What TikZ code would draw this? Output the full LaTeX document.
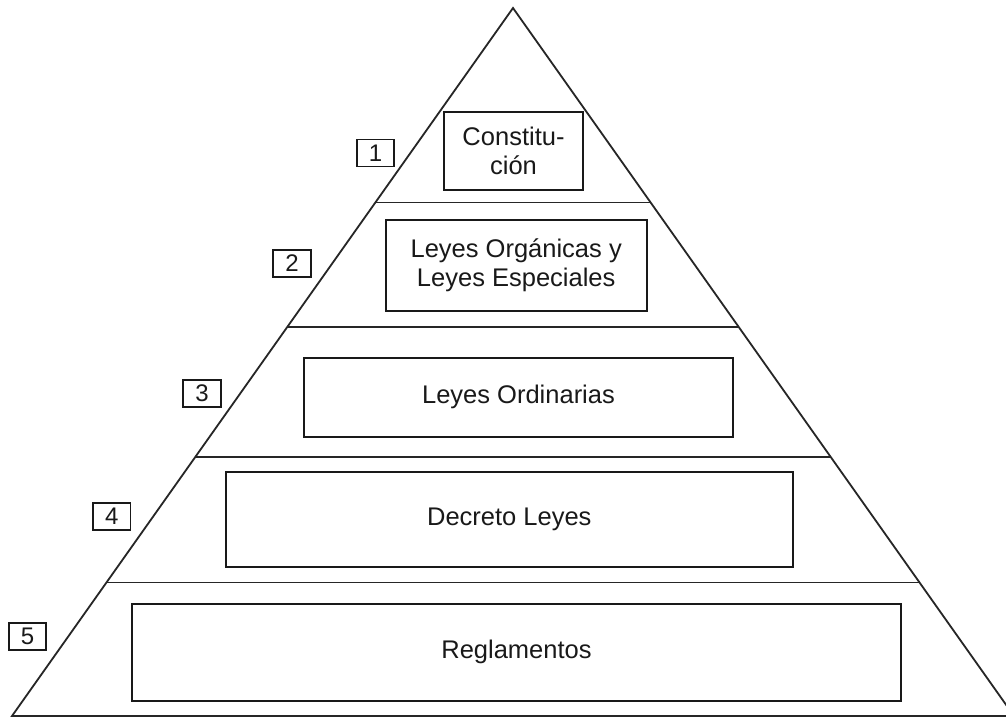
\documentclass[tikz,border=0pt]{standalone}
\usepackage{fontspec}
\setmainfont{Liberation Sans}
\usetikzlibrary{calc}
\begin{document}
\begin{tikzpicture}[x=1pt,y=-1pt,
  edge/.style={draw=black!85,line width=1.8pt},
  tier/.style={draw=black!90,line width=1.8pt,inner sep=0pt,align=center,
    text=black!90,font=\fontsize{25.5}{29.5}\selectfont},
  numbox/.style={draw=black!90,line width=1.7pt,inner sep=0pt,minimum width=37.5pt,
    minimum height=27pt,text=black!90,font=\fontsize{24}{26}\selectfont}]
\clip (0,0) rectangle (1006,717);
\useasboundingbox (0,0) rectangle (1006,717);
\fill[white] (0,0) rectangle (1006,717);
% triangle corners
\coordinate (A) at (513,8);
\coordinate (BL) at (12,716);
\coordinate (BR) at (1014,716);
\draw[edge,line join=miter] (BL) -- (A) -- (BR) -- cycle;
% dividing lines
\coordinate (l2a) at ($(A)!0.2747!(BL)$);
\coordinate (l2b) at ($(A)!0.2747!(BR)$);
\coordinate (l3a) at ($(A)!0.4506!(BL)$);
\coordinate (l3b) at ($(A)!0.4506!(BR)$);
\coordinate (l4a) at ($(A)!0.6342!(BL)$);
\coordinate (l4b) at ($(A)!0.6342!(BR)$);
\coordinate (l5a) at ($(A)!0.8114!(BL)$);
\coordinate (l5b) at ($(A)!0.8114!(BR)$);
\draw[edge] (l2a) -- (l2b);
\draw[edge] (l3a) -- (l3b);
\draw[edge] (l4a) -- (l4b);
\draw[edge] (l5a) -- (l5b);
% tier boxes
\node[tier,minimum width=139pt,minimum height=78pt] (t1) at (513.5,151) {Constitu-\\ción};
\node[tier,minimum width=261pt,minimum height=90.7pt] (t2) at (516.2,265.3) {Leyes Orgánicas y\\Leyes Especiales};
\node[tier,minimum width=429pt,minimum height=78.7pt] (t3) at (518.5,397.3) {Leyes Ordinarias};
\node[tier,minimum width=567.3pt,minimum height=94.7pt] (t4) at (509.3,519.3) {Decreto Leyes};
\node[tier,minimum width=769pt,minimum height=96.7pt] (t5) at (516.5,652.3) {Reglamentos};
% number boxes
\node[numbox] (n1) at (375.5,153) {1};
\node[numbox] (n2) at (292,263.3) {2};
\node[numbox] (n3) at (202,393.3) {3};
\node[numbox] (n4) at (111.8,516.2) {4};
\node[numbox] (n5) at (27.5,636.3) {5};
\end{tikzpicture}
\end{document}
